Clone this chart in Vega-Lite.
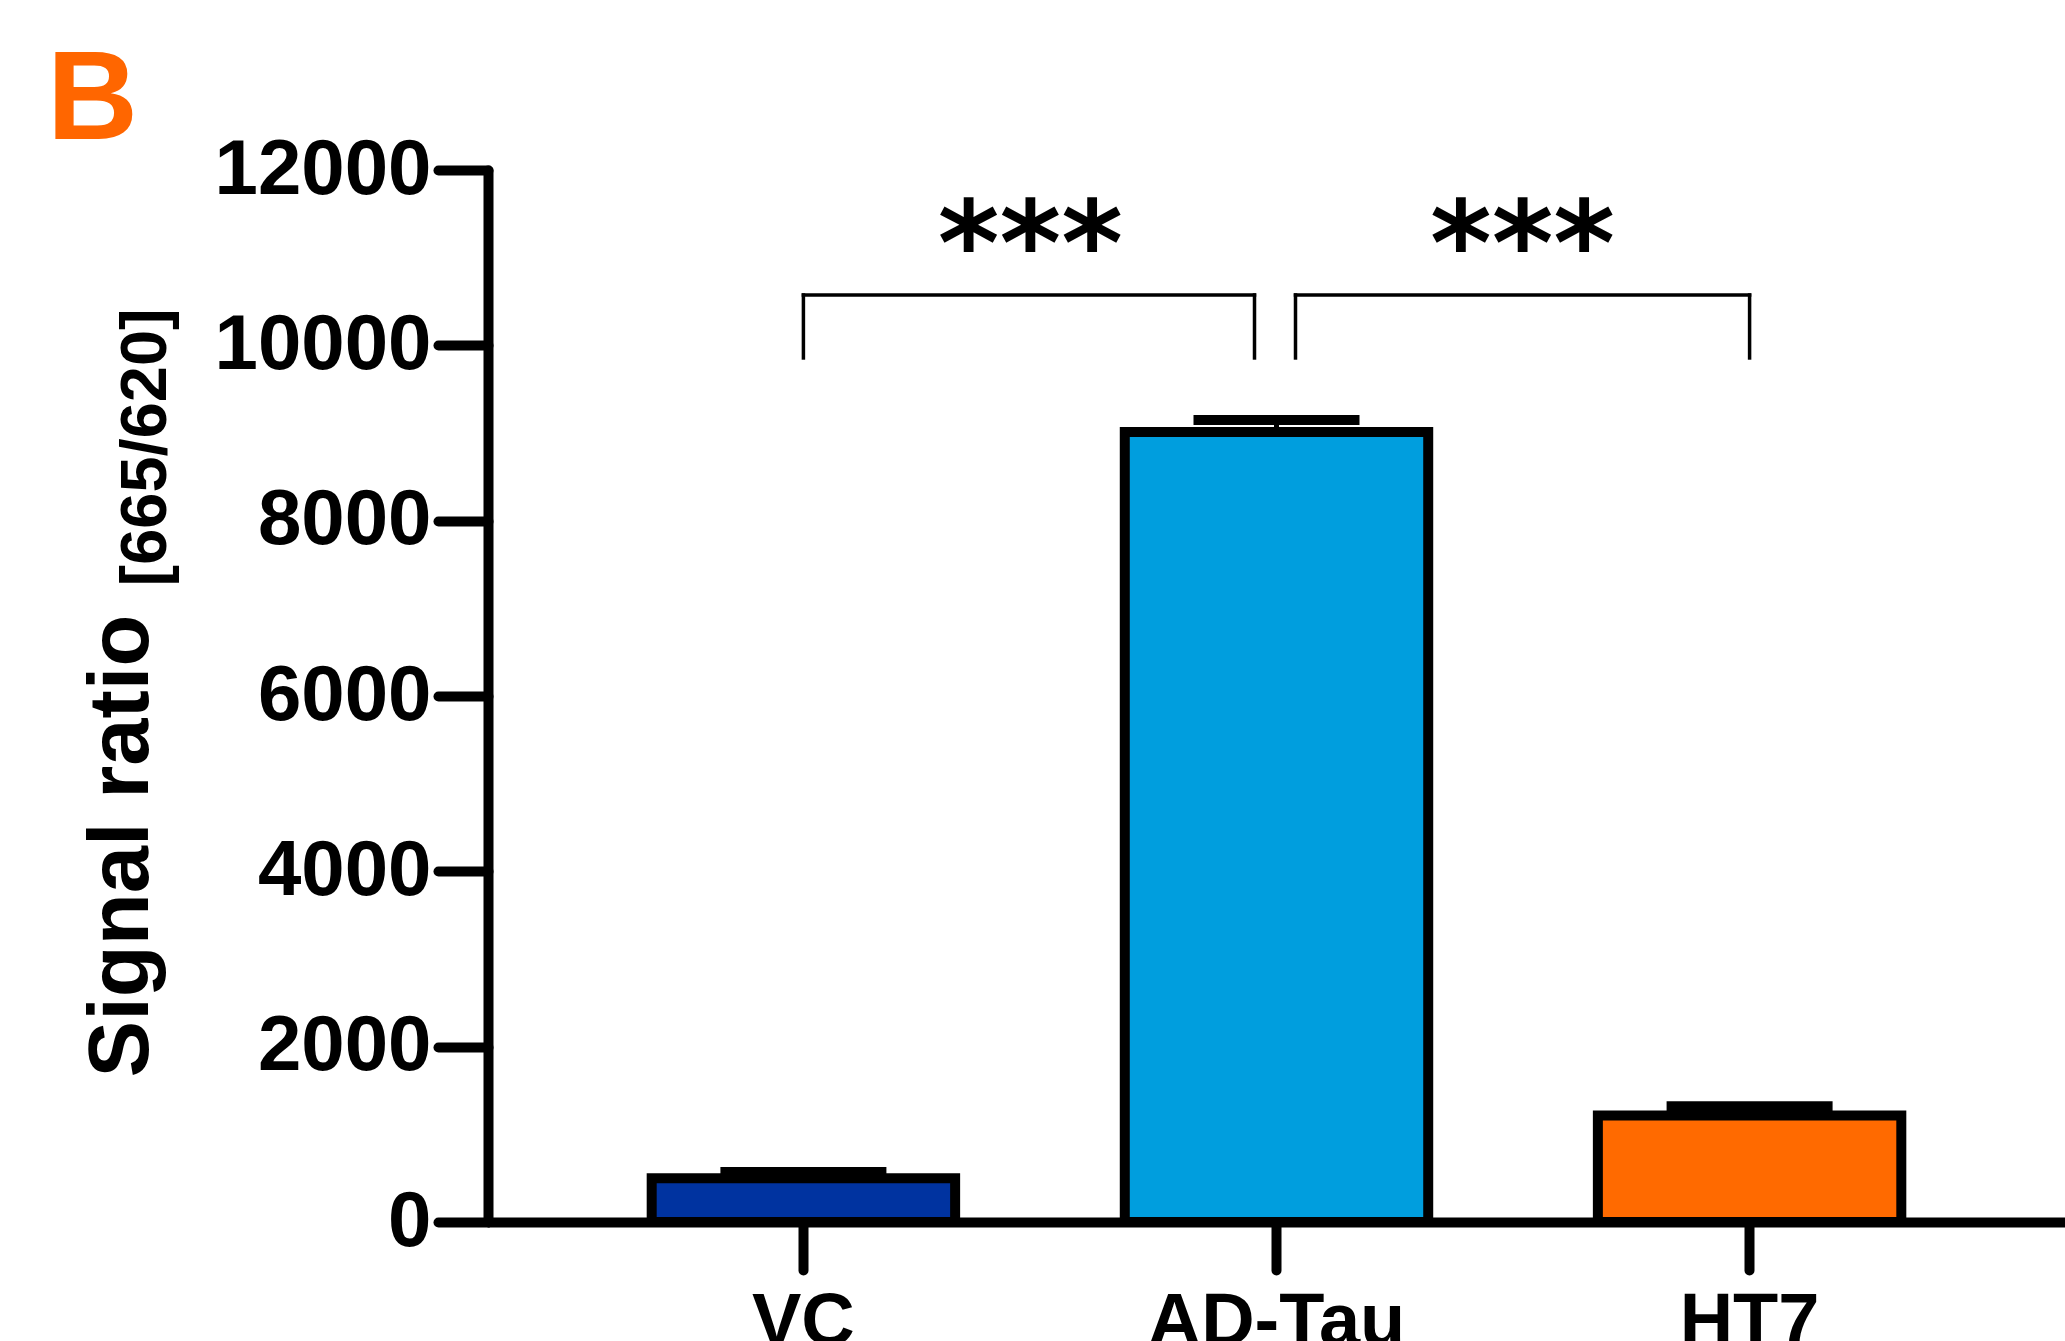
{
  "$schema": "https://vega.github.io/schema/vega-lite/v6.json",
  "width": 1577,
  "height": 1052,
  "autosize": {"type": "none"},
  "padding": {"left": 488, "top": 170, "right": 0, "bottom": 119},
  "background": "white",
  "config": {"view": {"stroke": null}, "font": "Liberation Sans"},
  "title": {"text": "B", "anchor": "start", "frame": "group", "fontSize": 126, "fontWeight": "bold", "color": "#FF6600", "font": "Liberation Sans", "dx": -441, "dy": 134, "offset": 0, "baseline": "alphabetic"},
  "datasets": {
    "bars": [
      {"group": "VC", "mean": 500, "upper": 570},
      {"group": "AD-Tau", "mean": 9011, "upper": 9148},
      {"group": "HT7", "mean": 1215, "upper": 1320}
    ],
    "brackets": [
      {"pair": "VC vs AD-Tau", "from": "VC", "to": "AD-Tau", "top": 10574, "leg": 9856, "label": "***"},
      {"pair": "AD-Tau vs HT7", "from": "AD-Tau", "to": "HT7", "top": 10574, "leg": 9856, "label": "***"}
    ]
  },
  "resolve": {"axis": {"y": "independent"}},
  "layer": [
    {
      "data": {"name": "bars"},
      "mark": {"type": "bar", "stroke": "black", "strokeWidth": 10, "strokeJoin": "miter"},
      "encoding": {
        "x": {"field": "group", "type": "nominal",
          "scale": {"domain": ["VC", "AD-Tau", "HT7"], "paddingInner": 0.3586, "paddingOuter": 0.346},
          "axis": {"title": null, "labelFontSize": 74, "labelFontWeight": "bold", "labelFont": "Liberation Sans", "labelColor": "black", "labelPadding": 16, "labelAngle": 0, "labelLimit": 0, "tickSize": 48, "tickWidth": 10, "tickColor": "black", "tickCap": "round", "domainWidth": 10, "domainColor": "black"}},
        "y": {"field": "mean", "type": "quantitative",
          "scale": {"domain": [0, 12000], "nice": false},
          "axis": {"title": "Signal ratio", "values": [0, 2000, 4000, 6000, 8000, 10000, 12000], "format": "d", "labelFontSize": 78, "labelFont": "Liberation Sans", "labelFontWeight": "bold", "labelColor": "black", "labelPadding": 7, "labelLimit": 0, "tickSize": 50, "tickWidth": 10, "tickColor": "black", "tickCap": "round", "domainWidth": 10, "domainColor": "black", "domainCap": "round", "grid": false, "titleFontSize": 85, "titleFont": "Liberation Sans", "titleFontWeight": "bold", "titleColor": "black", "titleAngle": -90, "titleAlign": "left", "titleBaseline": "alphabetic", "titleX": -341, "titleY": 907}},
        "color": {"field": "group", "type": "nominal", "scale": {"domain": ["VC", "AD-Tau", "HT7"], "range": ["#0033A0", "#009EDE", "#FF6A00"]}, "legend": null}
      }
    },
    {
      "data": {"name": "bars"},
      "mark": {"type": "rule", "strokeWidth": 5, "color": "black"},
      "encoding": {
        "x": {"field": "group", "type": "nominal", "axis": {"title": null}},
        "y": {"field": "mean", "type": "quantitative", "scale": {"domain": [0, 12000], "nice": false},
          "axis": {"orient": "left", "title": "[665/620]", "domain": false, "ticks": false, "labels": false, "grid": false, "titleFontSize": 65, "titleFont": "Liberation Sans", "titleFontWeight": "bold", "titleColor": "black", "titleAngle": -90, "titleAlign": "left", "titleBaseline": "alphabetic", "titleX": -323, "titleY": 416}},
        "y2": {"field": "upper"}
      }
    },
    {
      "data": {"name": "bars"},
      "mark": {"type": "tick", "size": 166, "thickness": 10, "color": "black", "opacity": 1},
      "encoding": {
        "x": {"field": "group", "type": "nominal", "axis": {"title": null}},
        "y": {"field": "upper", "type": "quantitative", "scale": {"domain": [0, 12000], "nice": false}, "axis": null}
      }
    },
    {
      "data": {"name": "brackets"},
      "transform": [{"filter": "datum.pair === 'VC vs AD-Tau'"}],
      "mark": {"type": "rule", "strokeWidth": 3.5, "color": "black", "strokeCap": "square", "x2Offset": -22},
      "encoding": {
        "x": {"field": "from", "type": "nominal", "axis": {"title": null}},
        "x2": {"field": "to"},
        "y": {"field": "top", "type": "quantitative", "scale": {"domain": [0, 12000], "nice": false}, "axis": null}
      }
    },
    {
      "data": {"name": "brackets"},
      "transform": [{"filter": "datum.pair === 'AD-Tau vs HT7'"}],
      "mark": {"type": "rule", "strokeWidth": 3.5, "color": "black", "strokeCap": "square", "xOffset": 19},
      "encoding": {
        "x": {"field": "from", "type": "nominal", "axis": {"title": null}},
        "x2": {"field": "to"},
        "y": {"field": "top", "type": "quantitative", "scale": {"domain": [0, 12000], "nice": false}, "axis": null}
      }
    },
    {
      "data": {"name": "brackets"},
      "transform": [{"filter": "datum.pair === 'VC vs AD-Tau'"}],
      "mark": {"type": "rule", "strokeWidth": 3.5, "color": "black", "strokeCap": "square"},
      "encoding": {
        "x": {"field": "from", "type": "nominal", "axis": {"title": null}},
        "y": {"field": "leg", "type": "quantitative", "scale": {"domain": [0, 12000], "nice": false}, "axis": null},
        "y2": {"field": "top"}
      }
    },
    {
      "data": {"name": "brackets"},
      "transform": [{"filter": "datum.pair === 'VC vs AD-Tau'"}],
      "mark": {"type": "rule", "strokeWidth": 3.5, "color": "black", "strokeCap": "square", "xOffset": -22},
      "encoding": {
        "x": {"field": "to", "type": "nominal", "axis": {"title": null}},
        "y": {"field": "leg", "type": "quantitative", "scale": {"domain": [0, 12000], "nice": false}, "axis": null},
        "y2": {"field": "top"}
      }
    },
    {
      "data": {"name": "brackets"},
      "transform": [{"filter": "datum.pair === 'AD-Tau vs HT7'"}],
      "mark": {"type": "rule", "strokeWidth": 3.5, "color": "black", "strokeCap": "square", "xOffset": 19},
      "encoding": {
        "x": {"field": "from", "type": "nominal", "axis": {"title": null}},
        "y": {"field": "leg", "type": "quantitative", "scale": {"domain": [0, 12000], "nice": false}, "axis": null},
        "y2": {"field": "top"}
      }
    },
    {
      "data": {"name": "brackets"},
      "transform": [{"filter": "datum.pair === 'AD-Tau vs HT7'"}],
      "mark": {"type": "rule", "strokeWidth": 3.5, "color": "black", "strokeCap": "square"},
      "encoding": {
        "x": {"field": "to", "type": "nominal", "axis": {"title": null}},
        "y": {"field": "leg", "type": "quantitative", "scale": {"domain": [0, 12000], "nice": false}, "axis": null},
        "y2": {"field": "top"}
      }
    },
    {
      "data": {"name": "brackets"},
      "transform": [{"filter": "datum.pair === 'VC vs AD-Tau'"}],
      "mark": {"type": "text", "font": "DejaVu Sans", "fontSize": 118, "fontWeight": "bold", "color": "black", "align": "center", "baseline": "alphabetic", "dx": 227, "dy": -10},
      "encoding": {
        "x": {"field": "from", "type": "nominal", "axis": {"title": null}},
        "y": {"field": "top", "type": "quantitative", "scale": {"domain": [0, 12000], "nice": false}, "axis": null},
        "text": {"field": "label"}
      }
    },
    {
      "data": {"name": "brackets"},
      "transform": [{"filter": "datum.pair === 'AD-Tau vs HT7'"}],
      "mark": {"type": "text", "font": "DejaVu Sans", "fontSize": 118, "fontWeight": "bold", "color": "black", "align": "center", "baseline": "alphabetic", "dx": 246, "dy": -10},
      "encoding": {
        "x": {"field": "from", "type": "nominal", "axis": {"title": null}},
        "y": {"field": "top", "type": "quantitative", "scale": {"domain": [0, 12000], "nice": false}, "axis": null},
        "text": {"field": "label"}
      }
    }
  ]
}
